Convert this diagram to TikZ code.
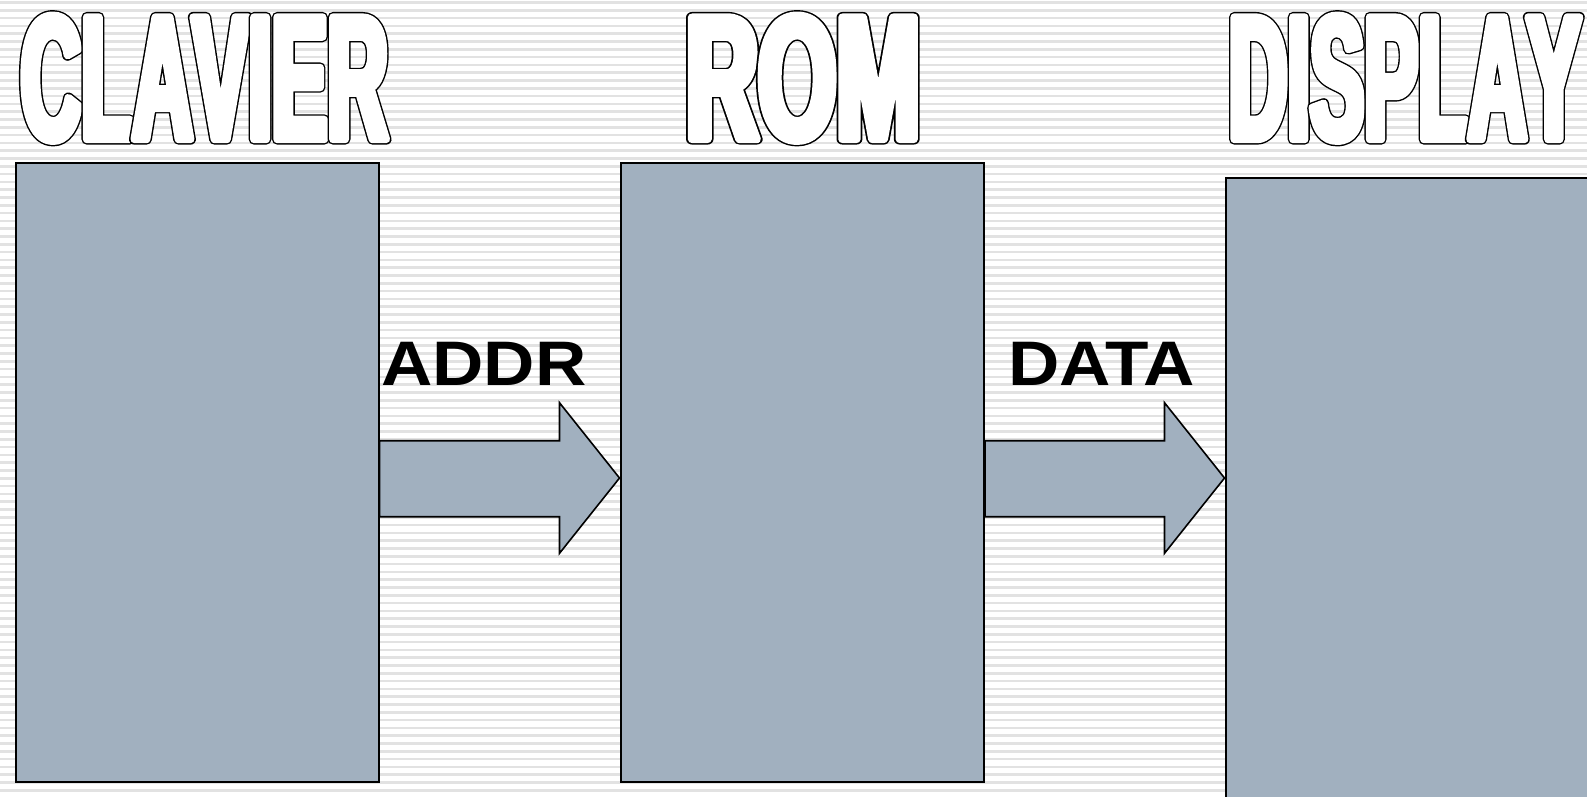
\documentclass[tikz,border=0pt]{standalone}
\usepackage{fontspec}
\setmainfont{Liberation Sans}
\newfontfamily\headingfont{Liberation Sans}[FakeStretch=0.46]
\newfontfamily\busfont{Liberation Sans}[FakeStretch=1.13]
\usetikzlibrary{
  calc
}
\definecolor{boxgrey}{HTML}{A1B0BF}
\definecolor{stripegrey}{HTML}{E2E2E2}
\newlength\px
\setlength\px{0.02cm}
% heavy white letter with a black rim: a wide black stroke below,
% a narrower white stroke on top, one letter after the other
\newcommand\hollowletter[1]{%
  \rlap{\special{pdf:literal direct 0 g 0 G 2 Tr 6.3 w 1 j}#1}%
  \special{pdf:literal direct 1 g 1 G 2 Tr 4.6 w 1 j}#1}
\def\hollowloop#1{\ifx\relax#1\else\hollowletter{#1}\expandafter\hollowloop\fi}
\newcommand\hollow[1]{\hollowloop#1\relax\special{pdf:literal direct 0 Tr}}
\newcommand\heading[3]{%
  \resizebox{#2\px}{#3\px}{\headingfont\bfseries\fontsize{106pt}{110pt}\selectfont\hollow{#1}}}
\tikzset{
  block/.style={
    draw=black,
    line width=2\px,
    fill=boxgrey,
    inner sep=0pt,
    anchor=north west
  },
  headline/.style={
    inner sep=0pt,
    anchor=north west,
    text=white
  },
  buslabel/.style={
    inner sep=0pt,
    anchor=base,
    font=\busfont\bfseries\fontsize{35.8pt}{40pt}\selectfont
  },
  bus/.style={
    draw=black,
    line width=1.6\px,
    fill=boxgrey,
    line join=miter
  }
}
% fat arrow from the right side of #1 to the left side of #2
\newcommand\busarrow[2]{%
  \draw[bus] (#1.east |- 0,440.7) -- ($(#2.west |- 0,440.7)+(-60,0)$)
    -- ($(#2.west |- 0,402.7)+(-60,0)$) -- (#2.west |- 0,478)
    -- ($(#2.west |- 0,553.3)+(-60,0)$) -- ($(#2.west |- 0,516.7)+(-60,0)$)
    -- (#1.east |- 0,516.7) -- cycle;}

\begin{document}
\begin{tikzpicture}[x=1\px, y=-1\px]
  \useasboundingbox (0,0) rectangle (1587,796);
  \fill[white] (0,0) rectangle (1587,796);
  \foreach \k in {0,...,102}
    \fill[stripegrey] (0,{1.2+7.8*\k}) rectangle (1587,{3.8+7.8*\k});

  \node[headline] (clavier title) at (20.5,15) {\heading{CLAVIER}{367}{124}};
  \node[headline] (rom title) at (685.5,15) {\heading{ROM}{234}{124}};
  \node[headline] (display title) at (1228.5,15) {\heading{DISPLAY}{352}{124}};

  \node[block, minimum width=362.5\px, minimum height=619.5\px] (clavier) at (15,161.5) {};
  \node[block, minimum width=363.5\px, minimum height=619.5\px] (rom) at (619.5,161.5) {};
  \node[block, minimum width=366\px, minimum height=622\px] (display) at (1224.5,176.5) {};

  \busarrow{clavier}{rom}
  \busarrow{rom}{display}

  \node[buslabel] (addr) at (484,385.7) {ADDR};
  \node[buslabel] (data) at (1101.5,385.7) {DATA};
\end{tikzpicture}
\end{document}
